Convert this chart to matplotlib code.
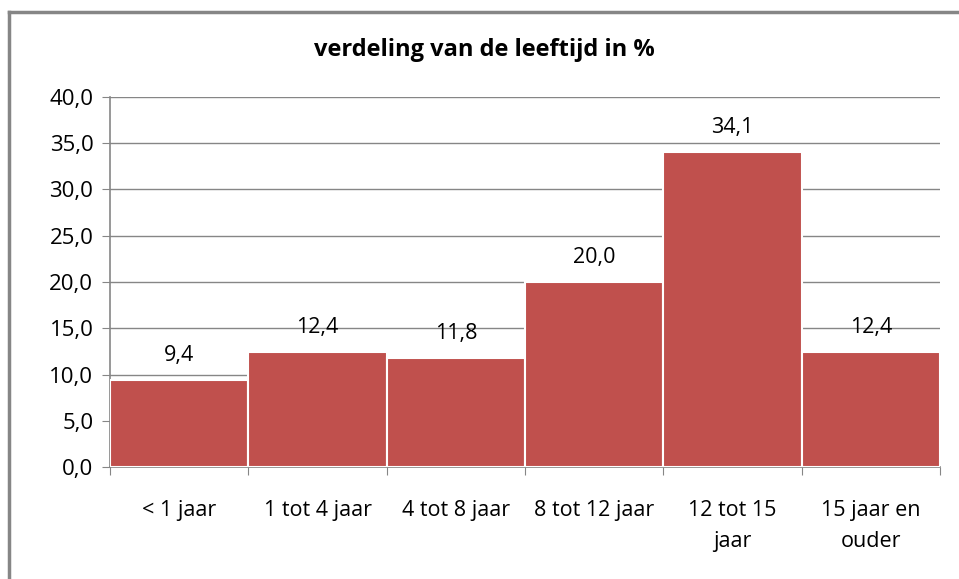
import matplotlib.pyplot as plt
from matplotlib.lines import Line2D

categories = ['< 1 jaar', '1 tot 4 jaar', '4 tot 8 jaar', '8 tot 12 jaar', '12 tot 15\njaar', '15 jaar en\nouder']
values = [9.4, 12.4, 11.8, 20.0, 34.1, 12.4]
yticks = [0, 5, 10, 15, 20, 25, 30, 35, 40]

plt.rcParams['font.family'] = ['Open Sans', 'DejaVu Sans']

fig = plt.figure(figsize=(9.59, 5.79), dpi=100)
ax = fig.add_axes([0.1147, 0.1934, 0.8655, 0.6391])

x = list(range(len(values)))
ax.bar(x, values, width=1.0, color='#C0504D', edgecolor='white', linewidth=1.5, zorder=3)
for xi, v in zip(x, values):
    ax.annotate(f'{v:.1f}'.replace('.', ','), (xi, v), xytext=(0, 10), textcoords='offset points',
                ha='center', va='bottom', fontsize=15.5)

ax.set_xlim(-0.5, len(values) - 0.5)
ax.set_ylim(0, 40)
ax.set_yticks(yticks)
ax.set_yticklabels([f'{t:.1f}'.replace('.', ',') for t in yticks], fontsize=16)
ax.yaxis.grid(True, color='#868686', linewidth=1, zorder=0)

ax.set_xticks([i - 0.5 for i in range(len(values) + 1)])
ax.set_xticklabels([])
ax.set_xticks(x, minor=True)
ax.set_xticklabels(categories, minor=True, fontsize=15.5, va='top', linespacing=1.6)
ax.tick_params(axis='x', which='minor', length=0, pad=24)
ax.tick_params(axis='x', which='major', length=6, color='#868686', direction='out')
ax.tick_params(axis='y', length=6, color='#868686', pad=6)

for s in ['top', 'right']:
    ax.spines[s].set_visible(False)
for s in ['left', 'bottom']:
    ax.spines[s].set_color('#868686')
    ax.spines[s].set_linewidth(1.2)

fig.text(0.505, 0.914, 'verdeling van de leeftijd in %', ha='center', va='center',
         fontsize=17, fontweight='bold')

# chart-area border (only left and top visible in the crop)
fig.add_artist(Line2D([0.0095, 0.0095], [0, 0.98], color='#868686', linewidth=2.5, transform=fig.transFigure))
fig.add_artist(Line2D([0.0095, 1.0], [0.98, 0.98], color='#868686', linewidth=2.5, transform=fig.transFigure))

fig.savefig('out.png', dpi=100)
